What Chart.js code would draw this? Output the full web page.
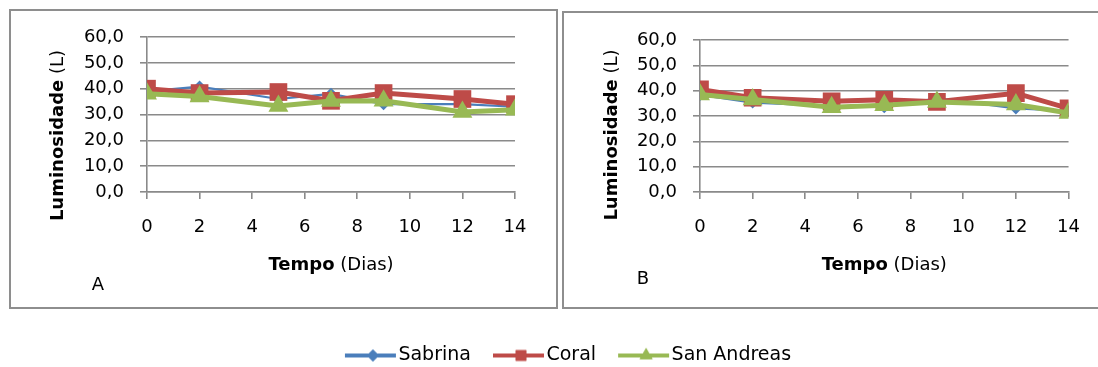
<!DOCTYPE html>
<html>
<head>
<meta charset="utf-8">
<script src="https://cdn.jsdelivr.net/npm/chart.js@4.4.0/dist/chart.umd.min.js"></script>
<style>
  html, body { margin: 0; padding: 0; background: #fff; width: 1098px; height: 367px; overflow: hidden; }
  .box { position: absolute; border: 2px solid #8e8e8e; box-sizing: border-box; }
  canvas { position: absolute; }
</style>
</head>
<body>
<div class="box" style="left:9px;top:9px;width:549px;height:300px"></div>
<div class="box" style="left:562px;top:11px;width:540px;height:298px"></div>
<canvas id="chartA" width="560" height="320" style="left:0;top:0"></canvas>
<canvas id="chartB" width="538" height="320" style="left:560px;top:0"></canvas>
<canvas id="legend" width="1098" height="140" style="left:0;top:326px"></canvas>
<script>
// Storage time (days) and luminosity L* for the three cultivars
const days = [0, 2, 5, 7, 9, 12, 14];
const seriesNames = ['Sabrina', 'Coral', 'San Andreas'];

// Panel A
const sabrinaA = [39.0, 40.8, 36.0, 38.0, 34.0, 34.0, 33.0];
const coralA = [40.0, 38.3, 38.7, 35.3, 38.3, 36.0, 34.0];
const sanAndreasA = [38.0, 37.0, 33.3, 35.2, 35.3, 31.0, 31.8];

// Panel B
const sabrinaB = [38.3, 35.3, 34.0, 33.5, 37.0, 33.0, 32.0];
const coralB = [40.5, 37.2, 35.8, 36.4, 35.6, 39.0, 33.0];
const sanAndreasB = [38.5, 36.5, 33.5, 34.2, 35.5, 34.5, 31.2];

// Axis tick values
const xTicks = [0, 2, 4, 6, 8, 10, 12, 14];
const yTicks = [0, 10, 20, 30, 40, 50, 60];

const FONT = 'DejaVu Sans';
const GRID = '#8a8a8a';
const colors = ['#4A7EBB', '#BE4B48', '#98B954'];

const styles = [
  { pointStyle: 'rectRot', pointRadius: 6, borderWidth: 2.2, order: 3 },
  { pointStyle: 'rect', pointRadius: 12.5, borderWidth: 5, order: 2 },
  { pointStyle: 'triangle', pointRadius: 11.5, borderWidth: 5, order: 1 }
];

function pairs(values) {
  return days.map((d, i) => ({ x: d, y: values[i] }));
}

function makeDatasets(list) {
  return list.map((values, i) => ({
    label: seriesNames[i],
    data: pairs(values),
    borderColor: colors[i],
    backgroundColor: colors[i],
    pointBackgroundColor: colors[i],
    pointBorderColor: colors[i],
    pointBorderWidth: 0,
    pointHoverRadius: styles[i].pointRadius,
    pointStyle: styles[i].pointStyle,
    pointRadius: styles[i].pointRadius,
    borderWidth: styles[i].borderWidth,
    order: styles[i].order,
    tension: 0,
    fill: false
  }));
}

// Titles with a bold first word, drawn on the chart canvas
function panelTitles(opts) {
  return {
    id: 'panelTitles',
    afterDraw(chart) {
      const ctx = chart.ctx;
      const area = chart.chartArea;
      ctx.save();
      ctx.fillStyle = '#000';
      ctx.textBaseline = 'middle';

      // x axis title
      ctx.font = 'bold 18px "' + FONT + '"';
      const wB = ctx.measureText('Tempo').width;
      ctx.font = '18px "' + FONT + '"';
      const wR = ctx.measureText(' (Dias)').width;
      let x0 = (area.left + area.right) / 2 - (wB + wR) / 2;
      ctx.textAlign = 'left';
      ctx.font = 'bold 18px "' + FONT + '"';
      ctx.fillText('Tempo', x0, opts.xTitleY);
      ctx.font = '18px "' + FONT + '"';
      ctx.fillText(' (Dias)', x0 + wB, opts.xTitleY);

      // y axis title
      ctx.translate(opts.yTitleX, (area.top + area.bottom) / 2 + opts.yTitleShift);
      ctx.rotate(-Math.PI / 2);
      ctx.font = 'bold 18px "' + FONT + '"';
      const yB = ctx.measureText('Luminosidade').width;
      ctx.font = '18px "' + FONT + '"';
      const yR = ctx.measureText(' (L)').width;
      const y0 = -(yB + yR) / 2;
      ctx.font = 'bold 18px "' + FONT + '"';
      ctx.fillText('Luminosidade', y0, 0);
      ctx.font = '18px "' + FONT + '"';
      ctx.fillText(' (L)', y0 + yB, 0);
      ctx.restore();

      // panel letter
      ctx.save();
      ctx.fillStyle = '#000';
      ctx.font = '18px "' + FONT + '"';
      ctx.textAlign = 'center';
      ctx.textBaseline = 'middle';
      ctx.fillText(opts.letter, opts.letterX, opts.letterY);
      ctx.restore();
    }
  };
}

function panelConfig(list, geo) {
  return {
    type: 'line',
    data: { datasets: makeDatasets(list) },
    options: {
      responsive: false,
      animation: false,
      events: [],
      layout: { padding: { left: 0, right: geo.padRight, top: geo.top, bottom: 0 } },
      plugins: { legend: { display: false }, tooltip: { enabled: false } },
      scales: {
        x: {
          type: 'linear',
          min: xTicks[0],
          max: xTicks[xTicks.length - 1],
          afterBuildTicks(scale) { scale.ticks = xTicks.map(v => ({ value: v })); },
          afterFit(scale) { scale.height = geo.canvasH - geo.bottom; },
          ticks: { color: '#000', font: { family: FONT, size: 18 }, padding: 18, maxRotation: 0, autoSkip: false },
          grid: { drawOnChartArea: false, drawTicks: true, tickLength: 7, color: GRID, lineWidth: 1.6 },
          border: { display: true, color: GRID, width: 1.6 }
        },
        y: {
          min: yTicks[0],
          max: yTicks[yTicks.length - 1],
          afterBuildTicks(scale) { scale.ticks = yTicks.map(v => ({ value: v })); },
          afterFit(scale) { scale.width = geo.left; },
          ticks: {
            color: '#000',
            font: { family: FONT, size: 18 },
            padding: 16,
            callback: v => v.toFixed(1).replace('.', ',')
          },
          grid: { drawOnChartArea: true, drawTicks: true, tickLength: 7, color: GRID, lineWidth: 1.6 },
          border: { display: true, color: GRID, width: 1.6 }
        }
      }
    },
    plugins: [panelTitles(geo)]
  };
}

new Chart(document.getElementById('chartA'), panelConfig(
  [sabrinaA, coralA, sanAndreasA],
  { left: 147, padRight: 45, top: 37, bottom: 192, canvasH: 320,
    xTitleY: 265, yTitleX: 58, yTitleShift: 21, letter: 'A', letterX: 98, letterY: 285 }
));

new Chart(document.getElementById('chartB'), panelConfig(
  [sabrinaB, coralB, sanAndreasB],
  { left: 140, padRight: 29, top: 40, bottom: 192, canvasH: 320,
    xTitleY: 265, yTitleX: 52, yTitleShift: 19, letter: 'B', letterX: 83, letterY: 279 }
));

// Legend icons: line segment with the series marker near its middle
function legendIcon(i) {
  const c = document.createElement('canvas');
  c.width = 74; c.height = 20;
  const ctx = c.getContext('2d');
  ctx.strokeStyle = colors[i];
  ctx.lineWidth = 4;
  ctx.beginPath();
  ctx.moveTo(16, 10); ctx.lineTo(67, 10);
  ctx.stroke();
  ctx.fillStyle = colors[i];
  const r = [6, 7.5, 7.5][i];
  Chart.helpers.drawPoint(ctx, { pointStyle: styles[i].pointStyle, radius: r, borderWidth: 0, rotation: 0 }, 44, 10);
  ctx.fill();
  return c;
}

new Chart(document.getElementById('legend'), {
  type: 'line',
  data: { datasets: seriesNames.map((n, i) => ({ label: n, data: [], borderColor: colors[i], backgroundColor: colors[i] })) },
  options: {
    responsive: false,
    animation: false,
    events: [],
    layout: { padding: { left: 36, top: 0 } },
    scales: { x: { display: false }, y: { display: false } },
    plugins: {
      tooltip: { enabled: false },
      legend: {
        display: true,
        position: 'top',
        labels: {
          color: '#000',
          font: { family: FONT, size: 19 },
          usePointStyle: true,
          pointStyleWidth: 46,
          padding: 20,
          generateLabels(chart) {
            return chart.data.datasets.map((ds, i) => ({
              text: ds.label,
              pointStyle: legendIcon(i),
              fillStyle: colors[i],
              strokeStyle: colors[i],
              lineWidth: 0,
              hidden: false,
              datasetIndex: i,
              fontColor: '#000'
            }));
          }
        }
      }
    }
  }
});
</script>
</body>
</html>
